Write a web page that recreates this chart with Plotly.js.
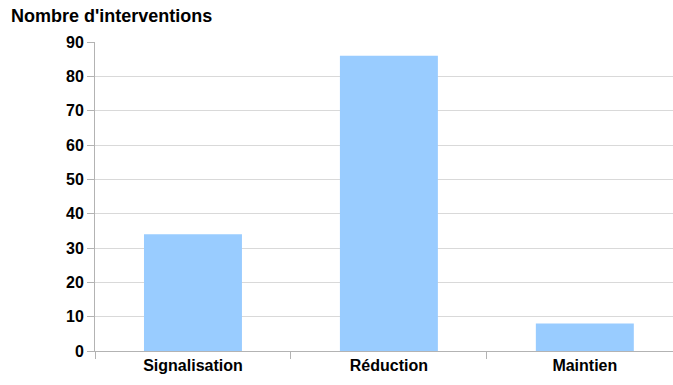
<!DOCTYPE html>
<html>
<head>
<meta charset="utf-8">
<script src="https://cdn.plot.ly/plotly-3.0.1.min.js"></script>
<style>html,body{margin:0;padding:0;background:#fff;}</style>
</head>
<body>
<div id="chart" style="width:673px;height:385px;"></div>
<script>
const categories = ["Signalisation", "Réduction", "Maintien"];
const values = [34, 86, 8];
const yTicks = [0, 10, 20, 30, 40, 50, 60, 70, 80, 90];
const yTitle = "Nombre d'interventions";

const font = {family: "Liberation Sans, Arial, sans-serif", size: 16, color: "#000"};

Plotly.newPlot("chart", [{
  type: "bar",
  x: categories,
  y: values,
  width: 0.5,
  marker: {color: "#99ccff", line: {width: 0}},
  hoverinfo: "skip"
}], {
  width: 673, height: 385,
  margin: {l: 95, r: 0, t: 42, b: 34, pad: 0},
  paper_bgcolor: "#fff", plot_bgcolor: "#fff",
  showlegend: false,
  font: font,
  xaxis: {
    type: "category",
    range: [-0.5, 2.45],
    tickson: "boundaries",
    ticks: "outside", ticklen: 7, tickcolor: "#b3b3b3", tickwidth: 1,
    showline: true, linecolor: "#b3b3b3", linewidth: 1,
    showgrid: false, zeroline: false,
    tickfont: {family: font.family, size: 16, color: "#000", weight: "bold"},
    fixedrange: true
  },
  yaxis: {
    range: [0, 90],
    tickvals: yTicks,
    ticktext: yTicks.map(String),
    ticks: "outside", ticklen: 7, tickcolor: "#b3b3b3", tickwidth: 1,
    showline: true, linecolor: "#b3b3b3", linewidth: 1,
    showgrid: true, gridcolor: "#d9d9d9", gridwidth: 1,
    zeroline: false,
    tickfont: {family: font.family, size: 16, color: "#000", weight: "bold"},
    fixedrange: true
  },
  annotations: [{
    text: yTitle, xref: "paper", yref: "paper",
    x: -95/578, y: 1, xshift: 9, yshift: 26,
    xanchor: "left", yanchor: "middle", showarrow: false,
    font: {family: font.family, size: 18, color: "#000", weight: "bold"}
  }]
}, {displayModeBar: false, staticPlot: true});
</script>
</body>
</html>
